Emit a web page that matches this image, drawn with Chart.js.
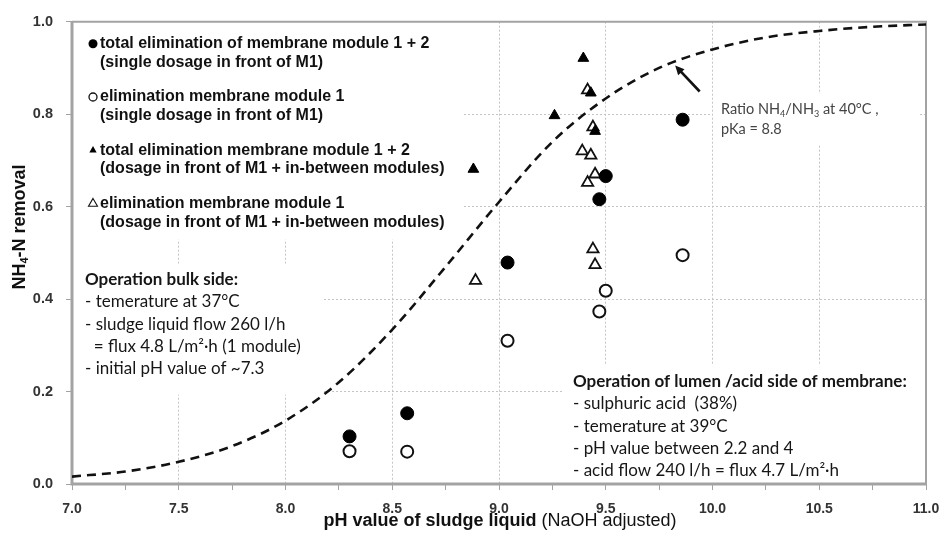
<!DOCTYPE html>
<html>
<head>
<meta charset="utf-8">
<title>NH4-N removal vs pH</title>
<script src="https://cdn.jsdelivr.net/npm/chart.js@4.4.1/dist/chart.umd.min.js"></script>
<style>
  html, body { margin: 0; padding: 0; background: #fff; }
  #wrap { width: 944px; height: 534px; }
</style>
</head>
<body>
<div id="wrap"><canvas id="removalChart" width="944" height="534"></canvas></div>
<script>
// NH3 share of total ammonia (pKa 8.8 at 40 °C)
const curvePH = [7.0, 7.25, 7.5, 7.75, 8.0, 8.25, 8.5, 8.75, 9.0, 9.25, 9.5, 9.75, 10.0, 10.25, 10.5, 10.75, 11.0];
const curveRatio = [0.016, 0.027, 0.048, 0.082, 0.137, 0.22, 0.334, 0.47, 0.61, 0.74, 0.834, 0.90, 0.94, 0.966, 0.98, 0.989, 0.994];

// single dosage in front of M1
const singlePH = [8.30, 8.57, 9.04, 9.47, 9.50, 9.86];
const singleTotal = [0.103, 0.153, 0.479, 0.616, 0.666, 0.788];
const singleM1 = [0.071, 0.070, 0.31, 0.373, 0.418, 0.495];

// dosage in front of M1 + in-between modules
const splitTotalPH = [8.88, 9.26, 9.395, 9.43, 9.45];
const splitTotal = [0.681, 0.797, 0.921, 0.846, 0.763];
const splitM1PH = [8.89, 9.39, 9.415, 9.415, 9.43, 9.44, 9.44, 9.45, 9.45];
const splitM1 = [0.44, 0.72, 0.652, 0.852, 0.711, 0.772, 0.508, 0.670, 0.474];

const phTicks = ['7.0', '7.5', '8.0', '8.5', '9.0', '9.5', '10.0', '10.5', '11.0'];
const removalTicks = ['0.0', '0.2', '0.4', '0.6', '0.8', '1.0'];

const legendEntries = [
  ['total elimination of membrane module 1 + 2', '(single dosage in front of M1)'],
  ['elimination membrane module 1', '(single dosage in front of M1)'],
  ['total elimination membrane module 1 + 2', '(dosage in front of M1 + in-between modules)'],
  ['elimination membrane module 1', '(dosage in front of M1 + in-between modules)']
];
const legendMarkers = ['dot', 'ring', 'tri', 'openTri'];

const bulkNotes = [
  'Operation bulk side:',
  '- temerature at 37°C',
  '- sludge liquid flow 260 l/h',
  '  = flux 4.8 L/m²·h (1 module)',
  '- initial pH value of ~7.3'
];
const lumenNotes = [
  'Operation of lumen /acid side of membrane:',
  '- sulphuric acid  (38%)',
  '- temerature at 39°C',
  '- pH value between 2.2 and 4',
  '- acid flow 240 l/h = flux 4.7 L/m²·h'
];

const ARIAL = '"Liberation Sans", Arial, sans-serif';
const CALI = 'Lato, "Open Sans", sans-serif';
const GRID = '#c4c4c4';
const FRAME = '#a3a3a3';

const toPoints = (xs, ys) => xs.map((x, i) => ({ x: x, y: ys[i] }));
const near = (a, b) => Math.abs(a - b) < 1e-6;
const isLabelled = (list, v) => list.some(t => near(parseFloat(t), v));

// draw text made of pieces; sub pieces are smaller and dropped
function richText(ctx, parts, x, y, size, weight) {
  let cx = x;
  parts.forEach(p => {
    const s = p.sub ? Math.round(size * 0.62) : size;
    ctx.font = (p.bold || weight) + ' ' + s + 'px ' + (p.family || ARIAL);
    ctx.fillText(p.t, cx, p.sub ? y + size * 0.28 : y);
    cx += ctx.measureText(p.t).width;
  });
  return cx - x;
}
function richWidth(ctx, parts, size, weight) {
  let w = 0;
  parts.forEach(p => {
    const s = p.sub ? Math.round(size * 0.62) : size;
    ctx.font = (p.bold || weight) + ' ' + s + 'px ' + (p.family || ARIAL);
    w += ctx.measureText(p.t).width;
  });
  return w;
}

function marker(ctx, kind, x, y) {
  ctx.save();
  ctx.fillStyle = '#000';
  ctx.strokeStyle = '#111';
  ctx.beginPath();
  if (kind === 'dot') {
    ctx.arc(x, y, 4.5, 0, Math.PI * 2);
    ctx.fill();
  } else if (kind === 'ring') {
    ctx.lineWidth = 1.3;
    ctx.arc(x, y, 4, 0, Math.PI * 2);
    ctx.stroke();
  } else {
    const r = kind === 'tri' ? 4.2 : 5.2;
    ctx.moveTo(x, y - r);
    ctx.lineTo(x + r * 0.866, y + r * 0.5);
    ctx.lineTo(x - r * 0.866, y + r * 0.5);
    ctx.closePath();
    if (kind === 'tri') ctx.fill();
    else { ctx.lineWidth = 1.1; ctx.stroke(); }
  }
  ctx.restore();
}

const panels = {
  id: 'panels',
  beforeDatasetsDraw(chart) {
    const { ctx, chartArea: a } = chart;
    ctx.save();
    // white backing under the text blocks hides the grid there
    ctx.fillStyle = '#fff';
    ctx.fillRect(a.left, a.top, 390, 218);
    ctx.fillRect(a.left, a.top + 242, 251, 131);
    ctx.fillRect(a.left + 491, a.top + 343, a.right - a.left - 491, a.bottom - a.top - 343);
    ctx.fillRect(a.left + 641, a.top + 72, 205, 51);

    // plot frame
    ctx.strokeStyle = FRAME;
    ctx.lineWidth = 2;
    ctx.beginPath();
    ctx.moveTo(a.left, a.top);
    ctx.lineTo(a.right, a.top);
    ctx.lineTo(a.right, a.bottom);
    ctx.stroke();
    ctx.lineWidth = 3;
    ctx.beginPath();
    ctx.moveTo(a.left, a.top);
    ctx.lineTo(a.left, a.bottom);
    ctx.lineTo(a.right, a.bottom);
    ctx.stroke();
    ctx.restore();
  },
  afterDatasetsDraw(chart) {
    const { ctx, chartArea: a, scales } = chart;
    ctx.save();
    ctx.textBaseline = 'middle';
    ctx.textAlign = 'left';

    // legend block
    legendEntries.forEach((lines, i) => {
      const y = a.top + 22 + i * 53.3;
      marker(ctx, legendMarkers[i], a.left + 21, y);
      ctx.fillStyle = '#111';
      ctx.font = 'bold 16px ' + ARIAL;
      ctx.fillText(lines[0], a.left + 28, y);
      ctx.fillText(lines[1], a.left + 28, y + 18.7);
    });

    // operating conditions
    ctx.fillStyle = '#161616';
    bulkNotes.forEach((t, i) => {
      ctx.font = (i === 0 ? 'bold ' : '') + '17px ' + CALI;
      ctx.fillText(t, a.left + 13, a.top + 258 + i * 22.3);
    });
    lumenNotes.forEach((t, i) => {
      ctx.font = (i === 0 ? 'bold ' : '') + '17px ' + CALI;
      ctx.fillText(t, a.left + 501, a.top + 360 + i * 22.3);
    });

    // curve annotation
    ctx.fillStyle = '#444';
    richText(ctx, [
      { t: 'Ratio NH', family: CALI }, { t: '4', sub: true, family: CALI },
      { t: '/NH', family: CALI }, { t: '3', sub: true, family: CALI },
      { t: ' at 40°C ,', family: CALI }
    ], a.left + 649, a.top + 88, 14.5, 'normal');
    ctx.font = '14.5px ' + CALI;
    ctx.fillText('pKa = 8.8', a.left + 649, a.top + 108);

    // arrow pointing at the curve
    const tx = scales.x.getPixelForValue(9.94), ty = scales.y.getPixelForValue(0.849);
    const hx = scales.x.getPixelForValue(9.825), hy = scales.y.getPixelForValue(0.905);
    const ang = Math.atan2(hy - ty, hx - tx);
    ctx.strokeStyle = '#111';
    ctx.fillStyle = '#111';
    ctx.lineWidth = 2.6;
    ctx.beginPath();
    ctx.moveTo(tx, ty);
    ctx.lineTo(hx - Math.cos(ang) * 6, hy - Math.sin(ang) * 6);
    ctx.stroke();
    ctx.beginPath();
    ctx.moveTo(hx, hy);
    ctx.lineTo(hx - 10 * Math.cos(ang - 0.45), hy - 10 * Math.sin(ang - 0.45));
    ctx.lineTo(hx - 10 * Math.cos(ang + 0.45), hy - 10 * Math.sin(ang + 0.45));
    ctx.closePath();
    ctx.fill();
    ctx.restore();
  },
  afterDraw(chart) {
    const { ctx, chartArea: a } = chart;
    ctx.save();
    ctx.fillStyle = '#111';
    ctx.textBaseline = 'middle';
    ctx.textAlign = 'left';

    // x axis title, bold part + plain part
    const xParts = [{ t: 'pH value of sludge liquid', bold: 'bold' }, { t: ' (NaOH adjusted)', bold: 'normal' }];
    const xw = richWidth(ctx, xParts, 18, 'normal');
    richText(ctx, xParts, (a.left + a.right) / 2 - xw / 2 + 1, 521, 18, 'normal');

    // y axis title with subscript
    const yParts = [{ t: 'NH' }, { t: '4', sub: true }, { t: '-N removal' }];
    const yw = richWidth(ctx, yParts, 18, 'bold');
    ctx.translate(20, 227);
    ctx.rotate(-Math.PI / 2);
    richText(ctx, yParts, -yw / 2, 0, 18, 'bold');
    ctx.restore();
  }
};

new Chart(document.getElementById('removalChart'), {
  type: 'scatter',
  data: {
    datasets: [
      {
        label: 'total elimination of membrane module 1 + 2 (single dosage in front of M1)',
        data: toPoints(singlePH, singleTotal),
        pointStyle: 'circle', pointRadius: 6.5,
        backgroundColor: '#000', borderColor: '#000', borderWidth: 1
      },
      {
        label: 'elimination membrane module 1 (single dosage in front of M1)',
        data: toPoints(singlePH, singleM1),
        pointStyle: 'circle', pointRadius: 6,
        backgroundColor: '#fff', borderColor: '#111', borderWidth: 2
      },
      {
        label: 'total elimination membrane module 1 + 2 (dosage in front of M1 + in-between modules)',
        data: toPoints(splitTotalPH, splitTotal),
        pointStyle: 'triangle', pointRadius: 6.2,
        backgroundColor: '#000', borderColor: '#000', borderWidth: 1
      },
      {
        label: 'elimination membrane module 1 (dosage in front of M1 + in-between modules)',
        data: toPoints(splitM1PH, splitM1),
        pointStyle: 'triangle', pointRadius: 6.5,
        backgroundColor: '#fff', borderColor: '#111', borderWidth: 1.8
      },
      {
        label: 'Ratio NH4/NH3 at 40°C, pKa = 8.8',
        data: toPoints(curvePH, curveRatio),
        showLine: true, pointRadius: 0,
        borderColor: '#111', borderWidth: 2.6, borderDash: [9, 6],
        cubicInterpolationMode: 'monotone'
      }
    ]
  },
  options: {
    responsive: false,
    animation: false,
    devicePixelRatio: 1,
    layout: { padding: { top: 20, right: 18, left: 0, bottom: 0 } },
    plugins: { legend: { display: false }, tooltip: { enabled: false } },
    scales: {
      x: {
        type: 'linear', min: 7, max: 11,
        // fixed height; end labels may overhang into the outer padding
        afterFit: s => { s.height = 50; s.paddingLeft = 0; s.paddingRight = 0; },
        ticks: {
          stepSize: 0.25, autoSkip: false, maxRotation: 0, padding: 11,
          color: '#333', font: { family: ARIAL, size: 14, weight: 'bold' },
          callback: v => isLabelled(phTicks, v) ? phTicks.find(t => near(parseFloat(t), v)) : ''
        },
        grid: {
          color: c => (c.tick && isLabelled(phTicks, c.tick.value) && c.tick.value > 7 && c.tick.value < 11) ? GRID : 'rgba(0,0,0,0)',
          tickColor: FRAME, tickLength: 6, lineWidth: 1
        },
        border: { display: false, dash: [2, 2] }
      },
      y: {
        min: 0, max: 1,
        afterFit: s => { s.width = 72; },
        ticks: {
          stepSize: 0.2, padding: 13,
          color: '#333', font: { family: ARIAL, size: 14.5, weight: 'bold' },
          callback: v => removalTicks.find(t => near(parseFloat(t), v)) || ''
        },
        grid: {
          color: c => (c.tick && c.tick.value > 0.01 && c.tick.value < 0.99) ? GRID : 'rgba(0,0,0,0)',
          tickColor: FRAME, tickLength: 6, lineWidth: 1
        },
        border: { display: false, dash: [2, 2] }
      }
    }
  },
  plugins: [panels]
});
</script>
</body>
</html>
